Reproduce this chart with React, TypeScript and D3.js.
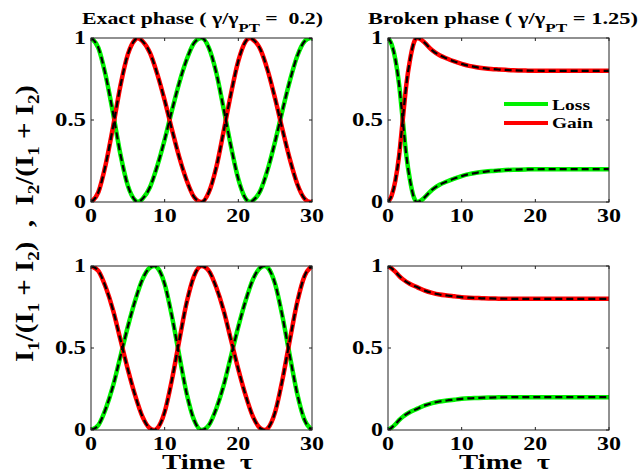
import React from "react";
import * as d3 from "d3";

// time samples + values
const tauExactTop = [0, 1, 2, 3, 4, 5, 6, 6.3, 7, 8, 9, 10, 11, 12, 13, 14, 15, 16, 17, 18, 19, 20, 21, 21.6, 22, 23, 24, 25, 26, 27, 28, 29, 29.8, 30];
const lossExactTop = [1, 0.94, 0.77, 0.54, 0.29, 0.1, 0.01, 0, 0.02, 0.09, 0.22, 0.38, 0.56, 0.73, 0.87, 0.97, 1, 0.94, 0.79, 0.57, 0.34, 0.14, 0.02, 0, 0.01, 0.07, 0.2, 0.37, 0.56, 0.74, 0.89, 0.98, 1, 1];
const gainExactTop = [0, 0.06, 0.23, 0.46, 0.71, 0.9, 0.99, 1, 0.98, 0.91, 0.78, 0.62, 0.44, 0.27, 0.13, 0.03, 0, 0.06, 0.21, 0.43, 0.66, 0.86, 0.98, 1, 0.99, 0.93, 0.8, 0.63, 0.44, 0.26, 0.11, 0.02, 0, 0];

const tauExactBottom = [0, 1, 2, 3, 4, 5, 6, 7, 8, 8.6, 9, 10, 11, 12, 13, 14, 15, 16, 17, 18, 19, 20, 21, 22, 23, 23.6, 24, 25, 26, 27, 28, 29, 30];
const gainExactBottom = [1, 0.97, 0.87, 0.73, 0.55, 0.37, 0.21, 0.08, 0.01, 0, 0.01, 0.11, 0.31, 0.55, 0.78, 0.94, 1, 0.97, 0.87, 0.73, 0.55, 0.37, 0.21, 0.08, 0.01, 0, 0.01, 0.11, 0.31, 0.55, 0.78, 0.94, 1];
const lossExactBottom = [0, 0.03, 0.13, 0.27, 0.45, 0.63, 0.79, 0.92, 0.99, 1, 0.99, 0.89, 0.69, 0.45, 0.22, 0.06, 0, 0.03, 0.13, 0.27, 0.45, 0.63, 0.79, 0.92, 0.99, 1, 0.99, 0.89, 0.69, 0.45, 0.22, 0.06, 0];

const tauBrokenTop = [0, 0.5, 1, 1.5, 2, 2.5, 3, 3.5, 3.9, 4.5, 5, 6, 7, 8, 9, 10, 11, 12, 13, 14, 15, 17, 19, 21, 24, 27, 30];
const gainBrokenTop = [0, 0.04, 0.13, 0.28, 0.5, 0.72, 0.87, 0.97, 1, 0.99, 0.97, 0.925, 0.895, 0.875, 0.857, 0.842, 0.83, 0.822, 0.816, 0.811, 0.808, 0.803, 0.801, 0.8, 0.8, 0.8, 0.8];
const lossBrokenTop = [1, 0.96, 0.87, 0.72, 0.5, 0.28, 0.13, 0.03, 0, 0.01, 0.03, 0.075, 0.105, 0.125, 0.143, 0.158, 0.17, 0.178, 0.184, 0.189, 0.192, 0.197, 0.199, 0.2, 0.2, 0.2, 0.2];

const tauBrokenBottom = [0, 0.5, 1, 1.5, 2, 3, 4, 5, 6, 7, 8, 9, 10, 11, 12, 13, 14, 15, 17, 19, 21, 24, 27, 30];
const gainBrokenBottom = [1, 0.985, 0.965, 0.94, 0.92, 0.89, 0.87, 0.85, 0.836, 0.826, 0.82, 0.815, 0.81, 0.807, 0.805, 0.803, 0.802, 0.801, 0.8, 0.8, 0.8, 0.8, 0.8, 0.8];
const lossBrokenBottom = [0, 0.015, 0.035, 0.06, 0.08, 0.11, 0.13, 0.15, 0.164, 0.174, 0.18, 0.185, 0.19, 0.193, 0.195, 0.197, 0.198, 0.199, 0.2, 0.2, 0.2, 0.2, 0.2, 0.2];

const xTicks = [0, 10, 20, 30];
const yTicks = [0, 0.5, 1];
const xTickLabels = ["0", "10", "20", "30"];
const yTickLabels = ["0", "0.5", "1"];
const legendLabels = ["Loss", "Gain"];

const GREEN = "#00f000";
const RED = "#ff0000";
const FONT = "'Liberation Serif', 'Times New Roman', serif";
const PW = 221;
const PH = 164;

const labelLen = (s: string) => [...s].reduce((a, c) => a + (c === "." ? 7 : 12), 0);

function Panel({ id, left, top, tau, loss, gain, legend }: any) {
  const x = d3.scaleLinear().domain([0, 30]).range([0, PW]);
  const y = d3.scaleLinear().domain([0, 1]).range([PH, 0]);
  const line = d3
    .line<number>()
    .x((d, i) => x(tau[i]))
    .y((d) => y(d))
    .curve(d3.curveMonotoneX);

  return (
    <g transform={`translate(${left},${top})`}>
      <defs>
        <clipPath id={id}>
          <rect x={0} y={0} width={PW} height={PH} />
        </clipPath>
      </defs>
      <g clipPath={`url(#${id})`}>
        <path d={line(loss) || ""} fill="none" stroke={GREEN} strokeWidth={4.5} />
        <path d={line(gain) || ""} fill="none" stroke={RED} strokeWidth={4.5} />
        <path d={line(loss) || ""} fill="none" stroke="#000" strokeWidth={2.2} strokeDasharray="7,4" />
        <path d={line(gain) || ""} fill="none" stroke="#000" strokeWidth={2.2} strokeDasharray="7,4" />
      </g>
      <rect x={0} y={0} width={PW} height={PH} fill="none" stroke="#222" strokeWidth={1} />
      {xTicks.map((t, i) => (
        <g key={"x" + t}>
          <line x1={x(t)} x2={x(t)} y1={PH} y2={PH - 3} stroke="#222" />
          <line x1={x(t)} x2={x(t)} y1={0} y2={3} stroke="#222" />
          <text
            x={x(t)}
            y={PH + 20}
            textAnchor="middle"
            fontSize={18}
            fontWeight="bold"
            fontFamily={FONT}
            textLength={labelLen(xTickLabels[i])}
            lengthAdjust="spacingAndGlyphs"
          >
            {xTickLabels[i]}
          </text>
        </g>
      ))}
      {yTicks.map((t, i) => (
        <g key={"y" + t}>
          <line x1={0} x2={3} y1={y(t)} y2={y(t)} stroke="#222" />
          <line x1={PW} x2={PW - 3} y1={y(t)} y2={y(t)} stroke="#222" />
          <text
            x={-5 - labelLen(yTickLabels[i])}
            y={y(t) + 6}
            fontSize={18}
            fontWeight="bold"
            fontFamily={FONT}
            textLength={labelLen(yTickLabels[i])}
            lengthAdjust="spacingAndGlyphs"
          >
            {yTickLabels[i]}
          </text>
        </g>
      ))}
      {legend &&
        [GREEN, RED].map((c, i) => (
          <g key={c}>
            <line x1={116} x2={160} y1={66 + i * 19} y2={66 + i * 19} stroke={c} strokeWidth={4} />
            <text
              x={164}
              y={72 + i * 18}
              fontSize={14}
              fontWeight="bold"
              fontFamily={FONT}
              textLength={i === 0 ? 38 : 41}
              lengthAdjust="spacingAndGlyphs"
            >
              {legendLabels[i]}
            </text>
          </g>
        ))}
    </g>
  );
}

export default function App() {
  return (
    <svg width={643} height={474} style={{ position: "absolute", left: 0, top: 0, background: "#fff" }}>
      <text x={82} y={24} fontSize={17} fontWeight="bold" fontFamily={FONT} textLength={241} lengthAdjust="spacingAndGlyphs">
        {"Exact phase ( \u03b3/\u03b3"}
        <tspan fontSize={13} dy={8}>PT</tspan>
        <tspan dy={-8}>{" =\u00a0\u00a00.2)"}</tspan>
      </text>
      <text x={368} y={24} fontSize={17} fontWeight="bold" fontFamily={FONT} textLength={270} lengthAdjust="spacingAndGlyphs">
        {"Broken phase ( \u03b3/\u03b3"}
        <tspan fontSize={13} dy={8}>PT</tspan>
        <tspan dy={-8}>{" = 1.25)"}</tspan>
      </text>

      <Panel id="c1" left={91} top={38} tau={tauExactTop} loss={lossExactTop} gain={gainExactTop} />
      <Panel id="c2" left={388} top={38} tau={tauBrokenTop} loss={lossBrokenTop} gain={gainBrokenTop} legend />
      <Panel id="c3" left={91} top={266} tau={tauExactBottom} loss={lossExactBottom} gain={gainExactBottom} />
      <Panel id="c4" left={388} top={266} tau={tauBrokenBottom} loss={lossBrokenBottom} gain={gainBrokenBottom} />

      <text x={162} y={469} fontSize={20} fontWeight="bold" fontFamily={FONT} textLength={91} lengthAdjust="spacingAndGlyphs">
        {"Time\u00a0\u00a0\u03c4"}
      </text>
      <text x={459} y={469} fontSize={20} fontWeight="bold" fontFamily={FONT} textLength={91} lengthAdjust="spacingAndGlyphs">
        {"Time\u00a0\u00a0\u03c4"}
      </text>

      <text
        transform="translate(33,362) rotate(-90)"
        fontSize={26}
        fontWeight="bold"
        fontFamily={FONT}
        textLength={277}
        lengthAdjust="spacingAndGlyphs"
      >
        I<tspan fontSize={17} dy={6}>1</tspan>
        <tspan dy={-6}>/(I</tspan>
        <tspan fontSize={17} dy={6}>1</tspan>
        <tspan dy={-6}> + I</tspan>
        <tspan fontSize={17} dy={6}>2</tspan>
        <tspan dy={-6}>{")\u00a0\u00a0,\u00a0\u00a0I"}</tspan>
        <tspan fontSize={17} dy={6}>2</tspan>
        <tspan dy={-6}>/(I</tspan>
        <tspan fontSize={17} dy={6}>1</tspan>
        <tspan dy={-6}> + I</tspan>
        <tspan fontSize={17} dy={6}>2</tspan>
        <tspan dy={-6}>)</tspan>
      </text>
    </svg>
  );
}
